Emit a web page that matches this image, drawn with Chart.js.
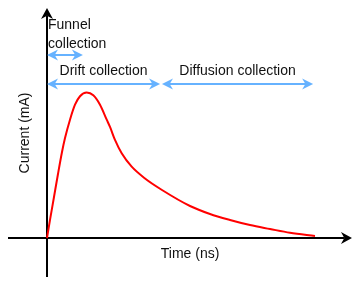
<!DOCTYPE html>
<html>
<head>
<meta charset="utf-8">
<script src="https://cdn.jsdelivr.net/npm/chart.js@4.4.1/dist/chart.umd.min.js"></script>
<style>
  html, body { margin: 0; padding: 0; background: #fff; }
  #wrap { width: 361px; height: 287px; }
</style>
</head>
<body>
<div id="wrap"><canvas id="ch" width="361" height="287"></canvas></div>
<script>
// ── Datos ─────────────────────────────────────────────────────────────────
const timeNs    = [0, 0.112, 0.261, 0.410, 0.560, 0.672, 0.858, 1.045, 1.231, 1.481,
                   1.728, 1.978, 2.228, 2.351, 2.537, 2.787, 3.160, 3.657, 4.291,
                   5.336, 6.082, 6.828, 7.575, 8.321, 9.067, 10.0];
const currentMA = [0, 0.124, 0.282, 0.440, 0.591, 0.687, 0.813, 0.916, 0.974, 1.00,
                   0.981, 0.916, 0.813, 0.763, 0.674, 0.582, 0.490, 0.409, 0.330,
                   0.220, 0.165, 0.124, 0.089, 0.062, 0.036, 0.014];

const phaseNames = [['Funnel', 'collection'], ['Drift collection'], ['Diffusion collection']];
const phaseStart = [0, 0, 4.29];
const phaseEnd   = [1.34, 4.22, 9.93];

const xTitle = 'Time (ns)';
const yTitle = 'Current (mA)';

// ── Layout (unidades de los ejes) ─────────────────────────────────────────
const phaseLevel = [1.258, 1.058, 1.058];
const X_AXIS = [-1.455, 11.38];
const Y_AXIS = [-0.268, 1.581];
const FONT   = '14px "Liberation Sans", Arial, sans-serif';
const BLUE   = '#66b2ff';

function arrowHead(ctx, x, y, ang, len, w, color) {
    ctx.save();
    ctx.translate(x, y); ctx.rotate(ang);
    ctx.fillStyle = color;
    ctx.beginPath();
    ctx.moveTo(0, 0);
    ctx.lineTo(-len, -w);
    ctx.lineTo(-len * 0.7, 0);
    ctx.lineTo(-len, w);
    ctx.closePath();
    ctx.fill();
    ctx.restore();
}

const diagram = {
    id: 'diagram',
    beforeDatasetsDraw(chart) {
        const { ctx, scales: { x, y } } = chart;
        const ox = x.getPixelForValue(0), oy = y.getPixelForValue(0);
        ctx.save();
        ctx.strokeStyle = '#000'; ctx.lineWidth = 2;
        // eje X
        const x0 = x.getPixelForValue(X_AXIS[0]), x1 = x.getPixelForValue(X_AXIS[1]);
        ctx.beginPath(); ctx.moveTo(x0, oy); ctx.lineTo(x1 - 8, oy); ctx.stroke();
        arrowHead(ctx, x1, oy, 0, 11, 6, '#000');
        // eje Y
        const yb = y.getPixelForValue(Y_AXIS[0]), yt = y.getPixelForValue(Y_AXIS[1]);
        ctx.beginPath(); ctx.moveTo(ox, yb); ctx.lineTo(ox, yt + 8); ctx.stroke();
        arrowHead(ctx, ox, yt, -Math.PI / 2, 11, 6, '#000');

        // flechas de fases
        ctx.strokeStyle = BLUE; ctx.lineWidth = 2;
        ctx.fillStyle = '#111'; ctx.font = FONT;
        phaseNames.forEach((lines, i) => {
            const a = x.getPixelForValue(phaseStart[i]), b = x.getPixelForValue(phaseEnd[i]);
            const py = Math.round(y.getPixelForValue(phaseLevel[i]));
            ctx.beginPath(); ctx.moveTo(a + 7, py); ctx.lineTo(b - 7, py); ctx.stroke();
            arrowHead(ctx, b, py, 0, 11, 5.5, BLUE);
            arrowHead(ctx, a, py, Math.PI, 11, 5.5, BLUE);
            ctx.textBaseline = 'alphabetic';
            if (lines.length > 1) {
                ctx.textAlign = 'left';
                ctx.fillText(lines[0], a + 1, py - 26);
                ctx.fillText(lines[1], a + 1, py - 7);
            } else {
                ctx.textAlign = 'center';
                ctx.fillText(lines[0], (a + b) / 2, py - 9);
            }
        });

        // titulos de ejes
        ctx.textAlign = 'center';
        ctx.fillText(xTitle, x.getPixelForValue(5.34), oy + 20);
        ctx.save();
        ctx.translate(ox - 18, y.getPixelForValue(0.722));
        ctx.rotate(-Math.PI / 2);
        ctx.fillText(yTitle, 0, 0);
        ctx.restore();
        ctx.restore();
    },
};

new Chart(document.getElementById('ch'), {
    type: 'line',
    data: {
        datasets: [{
            data: timeNs.map((t, i) => ({ x: t, y: currentMA[i] })),
            borderColor: '#ff0000', borderWidth: 2,
            pointRadius: 0, cubicInterpolationMode: 'monotone',
            fill: false, clip: false,
        }],
    },
    options: {
        responsive: false, animation: false,
        devicePixelRatio: 1,
        layout: { padding: 0 },
        plugins: { legend: { display: false }, tooltip: { enabled: false } },
        scales: {
            x: { type: 'linear', display: false, min: -47 / 26.8, max: 314 / 26.8 },
            y: { type: 'linear', display: false, min: -49 / 145.5, max: 238 / 145.5 },
        },
    },
    plugins: [diagram],
});
</script>
</body>
</html>
